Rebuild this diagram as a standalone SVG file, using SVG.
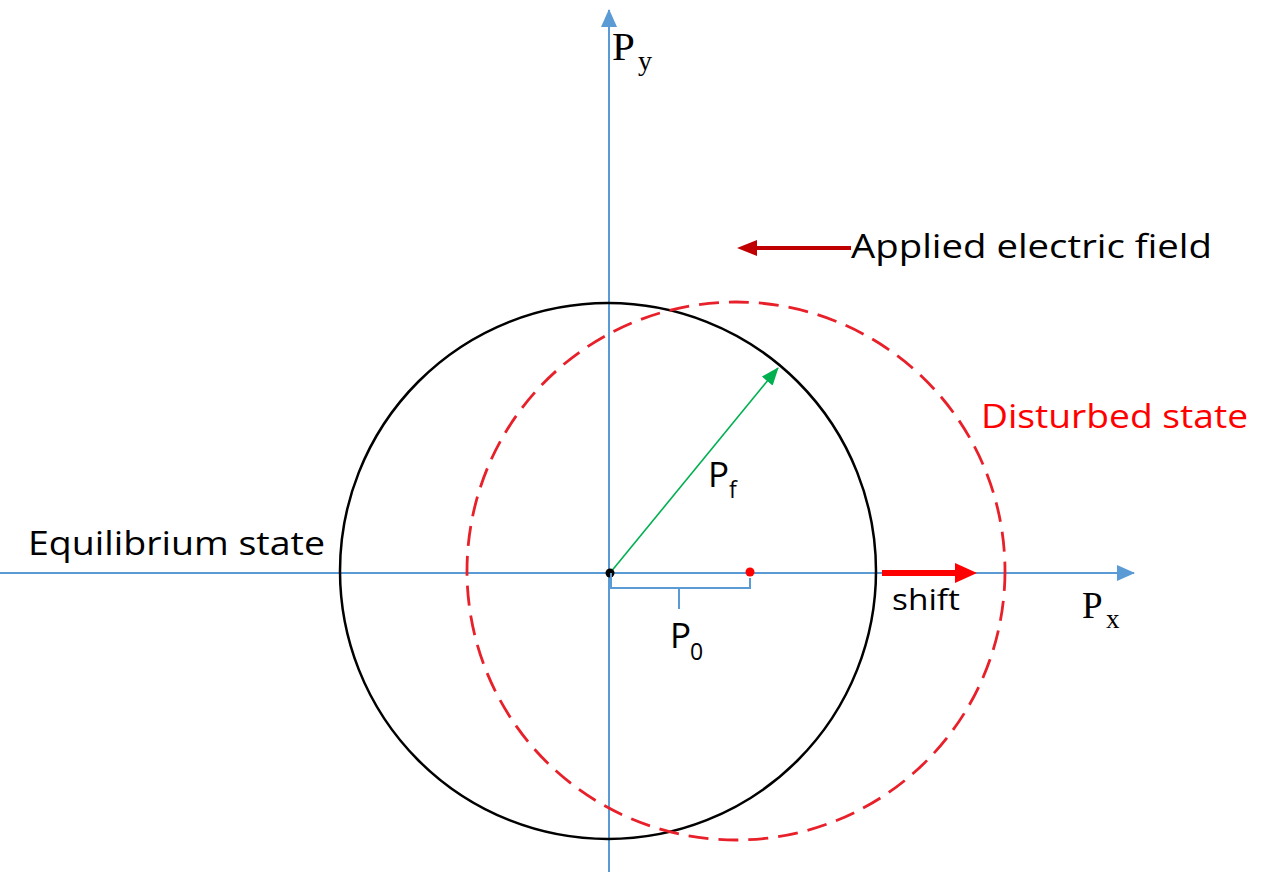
<svg xmlns="http://www.w3.org/2000/svg" width="1266" height="872" viewBox="0 0 1266 872">
  <style>
    .axis{stroke:#5B9BD5;stroke-width:2;fill:none}
    .lbl{font-family:"Open Sans","Liberation Sans",sans-serif;fill:#000}
    .ser{font-family:"Liberation Serif","Times New Roman",serif;fill:#000}
  </style>
  <defs>
    <marker id="axArrowBig" markerWidth="18" markerHeight="16" refX="17" refY="8" orient="auto" markerUnits="userSpaceOnUse">
      <path d="M0,0 L18,8 L0,16 Z" fill="#5B9BD5"/>
    </marker>
    <marker id="greenArrow" markerWidth="18" markerHeight="14" refX="17" refY="7" orient="auto" markerUnits="userSpaceOnUse">
      <path d="M0,0 L18,7 L0,14 Z" fill="#00B050"/>
    </marker>
  </defs>
  <rect width="1266" height="872" fill="#fff"/>

  <g id="connectors">
    <line class="axis" x1="0" y1="573" x2="1134" y2="573" marker-end="url(#axArrowBig)"/>
    <line class="axis" x1="609" y1="872" x2="609" y2="10" marker-end="url(#axArrowBig)"/>
  </g>

  <g id="equilibrium-circle">
    <circle cx="608" cy="571" r="268" fill="none" stroke="#000" stroke-width="2.5"/>
  </g>
  <g id="disturbed-circle">
    <circle cx="736" cy="571" r="269" fill="none" stroke="#E8202A" stroke-width="2.8" stroke-dasharray="20 10"/>
  </g>

  <g id="pf-vector">
    <line x1="610" y1="573" x2="778" y2="368" stroke="#00B050" stroke-width="1.6" marker-end="url(#greenArrow)"/>
    <text class="lbl" x="708" y="487" font-size="35">P</text>
    <text class="lbl" x="729" y="498" font-size="23">f</text>
  </g>

  <g id="origin">
    <circle cx="610" cy="573" r="4.5" fill="#000"/>
  </g>
  <g id="center-shift">
    <circle cx="750" cy="572" r="4.5" fill="#FF0000"/>
  </g>

  <g id="p0-bracket">
    <path d="M611,573 V588 H750 V578 M679,588 V609" fill="none" stroke="#5B9BD5" stroke-width="2"/>
    <text class="lbl" x="670" y="648" font-size="35">P</text>
    <text class="lbl" x="690" y="660" font-size="23">0</text>
  </g>

  <g id="shift-arrow">
    <line x1="882" y1="573" x2="958" y2="573" stroke="#FF0000" stroke-width="6"/>
    <path d="M955,563 L977,573 L955,583 Z" fill="#FF0000"/>
    <text class="lbl" x="892" y="610" font-size="30" textLength="68" lengthAdjust="spacingAndGlyphs">shift</text>
  </g>

  <g id="field-arrow">
    <line x1="851" y1="248" x2="754" y2="248" stroke="#C00000" stroke-width="4"/>
    <path d="M757,240 L737,248 L757,256 Z" fill="#C00000"/>
    <text class="lbl" x="851" y="258" font-size="33" textLength="361" lengthAdjust="spacingAndGlyphs">Applied electric field</text>
  </g>

  <g id="disturbed-label">
    <text class="lbl" x="981" y="428" font-size="33" style="fill:#FF0000" textLength="267" lengthAdjust="spacingAndGlyphs">Disturbed state</text>
  </g>

  <g id="equilibrium-label">
    <text class="lbl" x="28" y="555" font-size="33" textLength="297" lengthAdjust="spacingAndGlyphs">Equilibrium state</text>
  </g>

  <g id="px-label">
    <text class="ser" x="1082" y="618" font-size="37">P</text>
    <text class="ser" x="1106" y="628" font-size="27">x</text>
  </g>
  <g id="py-label">
    <text class="ser" x="612" y="60" font-size="41">P</text>
    <text class="ser" x="638" y="70" font-size="28">y</text>
  </g>
</svg>
